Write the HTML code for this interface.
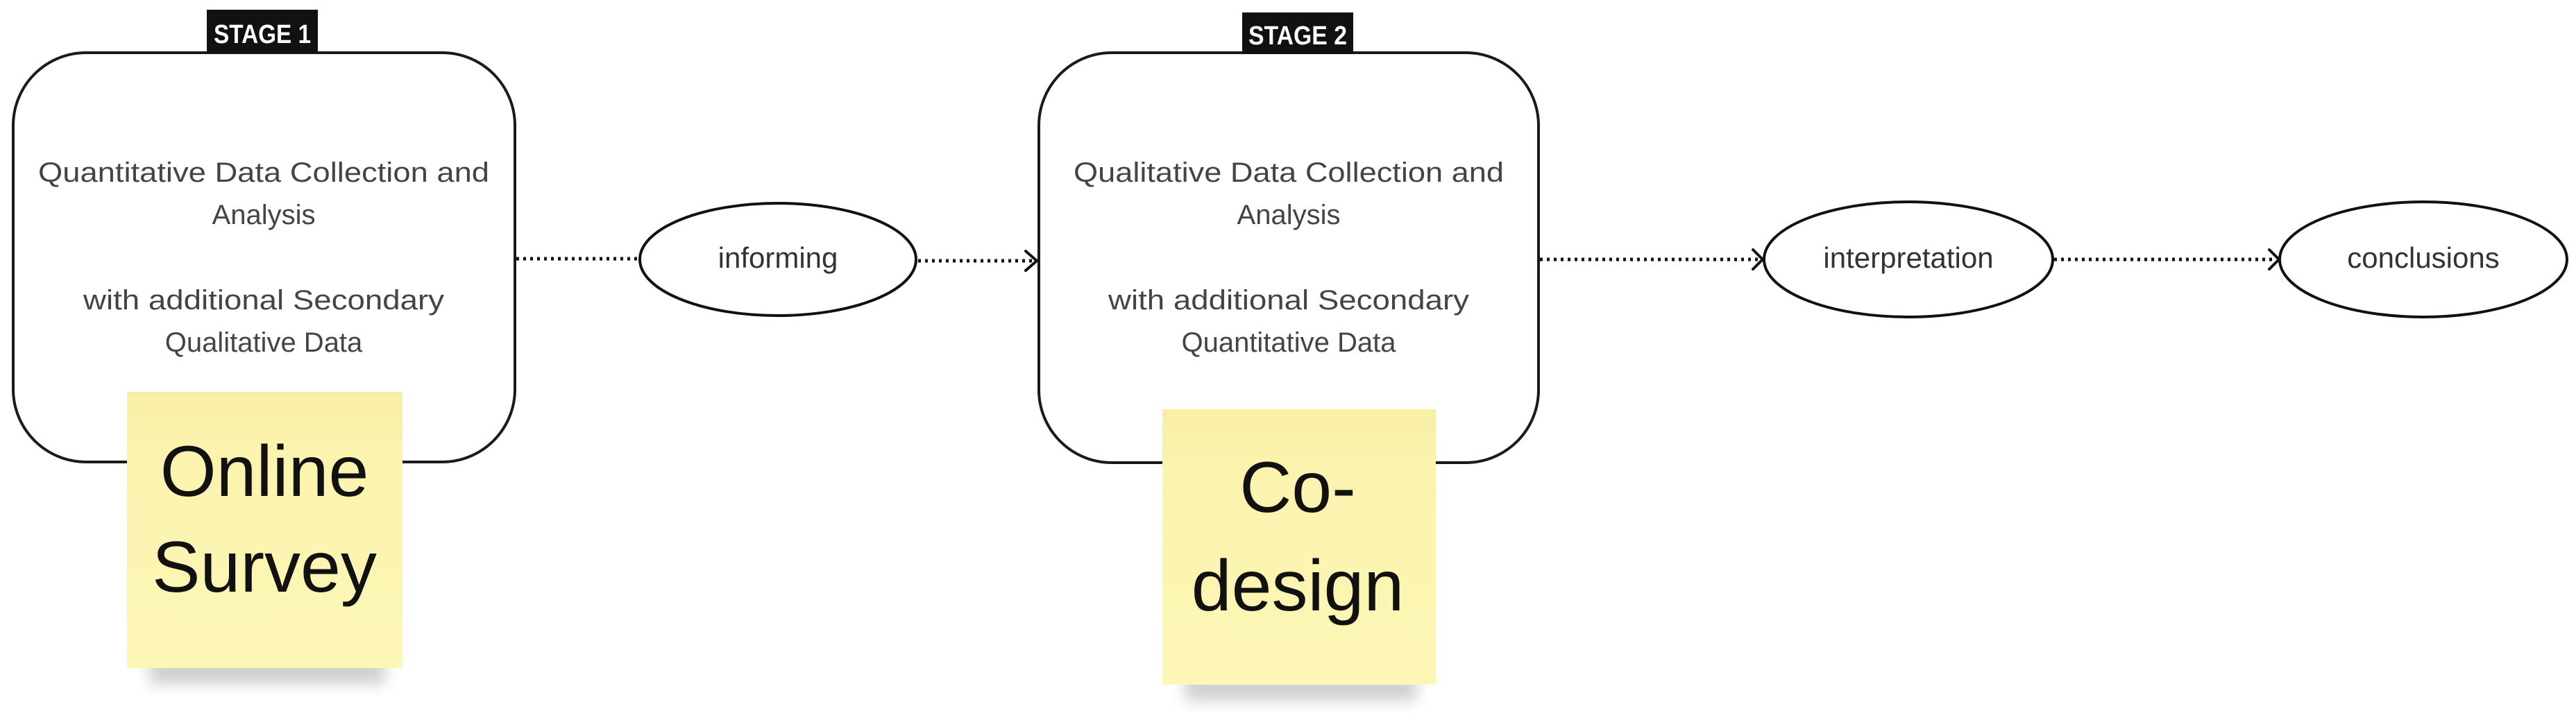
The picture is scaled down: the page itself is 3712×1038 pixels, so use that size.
<!DOCTYPE html>
<html><head><meta charset="utf-8"><style>
html,body{margin:0;padding:0;background:#fff;width:3712px;height:1038px;overflow:hidden}
svg{display:block}
text{font-family:"Liberation Sans",sans-serif}
</style></head><body>
<svg width="3712" height="1038" viewBox="0 0 3712 1038" xmlns="http://www.w3.org/2000/svg">
<defs>
<filter id="sh" x="-20%" y="-50%" width="140%" height="200%"><feGaussianBlur stdDeviation="10"/></filter>
<linearGradient id="st" x1="0" y1="0" x2="0" y2="1"><stop offset="0" stop-color="#f8efa4"/><stop offset="0.2" stop-color="#fbf3ae"/><stop offset="1" stop-color="#fdf7b6"/></linearGradient>
</defs>
<rect x="19" y="76" width="723" height="590" rx="105" ry="105" fill="#fff" stroke="#1a1a1a" stroke-width="4"/>
<rect x="1497" y="76" width="720" height="591" rx="105" ry="105" fill="#fff" stroke="#1a1a1a" stroke-width="4"/>
<rect x="298" y="14" width="160" height="62" fill="#111"/>
<text x="378" y="62" font-size="38" font-weight="bold" fill="#fff" text-anchor="middle" textLength="140" lengthAdjust="spacingAndGlyphs">STAGE 1</text>
<rect x="1790" y="18" width="160" height="60" fill="#111"/>
<text x="1870" y="64" font-size="38" font-weight="bold" fill="#fff" text-anchor="middle" textLength="142" lengthAdjust="spacingAndGlyphs">STAGE 2</text>
<g font-size="40" fill="#444" text-anchor="middle">
<text x="380" y="262" textLength="650" lengthAdjust="spacingAndGlyphs">Quantitative Data Collection and</text>
<text x="380" y="323">Analysis</text>
<text x="380" y="446" textLength="520" lengthAdjust="spacingAndGlyphs">with additional Secondary</text>
<text x="380" y="507">Qualitative Data</text>
<text x="1857" y="262" textLength="620" lengthAdjust="spacingAndGlyphs">Qualitative Data Collection and</text>
<text x="1857" y="323">Analysis</text>
<text x="1857" y="446" textLength="520" lengthAdjust="spacingAndGlyphs">with additional Secondary</text>
<text x="1857" y="507">Quantitative Data</text>
</g>
<g stroke="#111" stroke-width="5" stroke-dasharray="4 6" fill="none">
<line x1="744" y1="373" x2="921" y2="373"/>
<line x1="1323" y1="376" x2="1490" y2="376"/>
<line x1="2219" y1="374" x2="2536" y2="374"/>
<line x1="2960" y1="374" x2="3280" y2="374"/>
</g>
<g stroke="#111" stroke-width="4" fill="none" stroke-linecap="round">
<polyline points="1478,362 1494,376 1478,390"/>
<polyline points="2526,360 2540,374 2526,388"/>
<polyline points="3270,360 3284,374 3270,388"/>
</g>
<g fill="#fff" stroke="#111" stroke-width="4">
<ellipse cx="1121" cy="374" rx="199" ry="81"/>
<ellipse cx="2750" cy="374" rx="208" ry="83"/>
<ellipse cx="3492" cy="374" rx="207" ry="83"/>
</g>
<g font-size="42" fill="#333" text-anchor="middle">
<text x="1121" y="386">informing</text>
<text x="2750" y="386">interpretation</text>
<text x="3492" y="386">conclusions</text>
</g>
<rect x="215" y="950" width="340" height="36" fill="#888" opacity="0.4" filter="url(#sh)"/>
<rect x="183" y="565" width="397" height="398" fill="url(#st)"/>
<g font-size="104" fill="#111" text-anchor="middle">
<text x="381" y="715">Online</text>
<text x="381" y="853">Survey</text>
</g>
<rect x="1707" y="974" width="335" height="36" fill="#888" opacity="0.4" filter="url(#sh)"/>
<rect x="1675" y="590" width="394" height="397" fill="url(#st)"/>
<g font-size="104" fill="#111" text-anchor="middle">
<text x="1870" y="738">Co-</text>
<text x="1870" y="880">design</text>
</g>
</svg>
</body></html>
